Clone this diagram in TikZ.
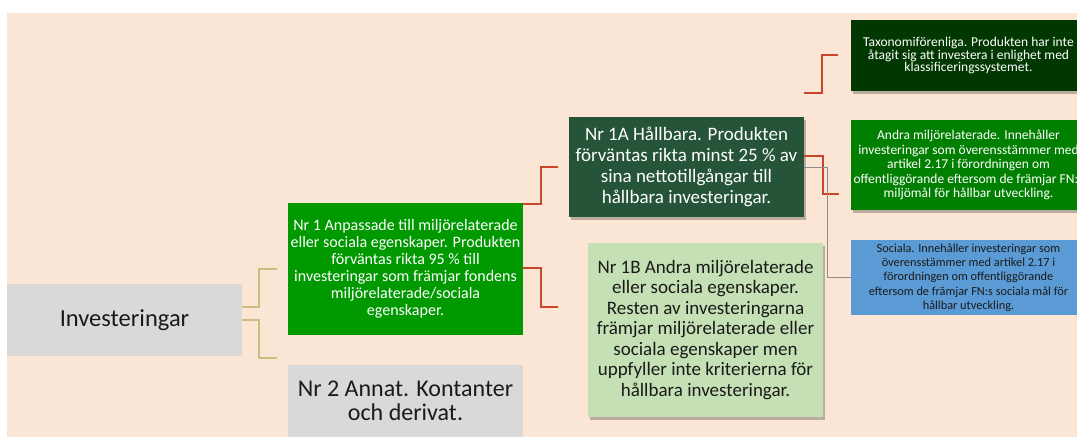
\documentclass[tikz,border=0pt]{standalone}
\usepackage{fontspec}
\setmainfont{Carlito}
\usetikzlibrary{shadows}
\definecolor{bg}{HTML}{FBE6D6}
\definecolor{boxgray}{HTML}{D9D9D9}
\definecolor{nrgreen}{HTML}{009900}
\definecolor{darkgreen}{HTML}{265438}
\definecolor{lightgreen}{HTML}{C5E0B4}
\definecolor{taxgreen}{HTML}{013801}
\definecolor{midgreen}{HTML}{007F00}
\definecolor{socblue}{HTML}{5B9BD5}
\definecolor{redline}{HTML}{C8472B}
\definecolor{tanline}{HTML}{CBBF7F}
\definecolor{grayline}{HTML}{8C8C8C}
\definecolor{darktext}{HTML}{1A1A1A}
\begin{document}
\begin{tikzpicture}[x=1pt,y=-1pt,
  box/.style={rectangle, inner sep=0pt, minimum width=235pt, align=center},
  shadowed/.style={drop shadow={shadow xshift=2pt, shadow yshift=-3pt, opacity=0.25, fill=black}},
  tanconn/.style={draw=tanline, line width=1.6pt},
  redconn/.style={draw=redline, line width=1.8pt},
  grayconn/.style={draw=grayline, line width=1pt}]
\useasboundingbox (0,0) rectangle (1077,437);
\clip (0,0) rectangle (1077,437);
\fill[white] (0,0) rectangle (1077,437);
\fill[bg] (7,13) rectangle (1077,437);

% nodes
\node[box, fill=boxgray, minimum height=72pt, text=darktext,
  font=\fontsize{24.5}{26}\selectfont] (inv) at (124.5,320) {Investeringar};
\node[box, fill=nrgreen, minimum height=132pt, text=white,
  font=\fontsize{16}{17}\selectfont] (nr1) at (405.5,269)
  {Nr 1 Anpassade till miljörelaterade\\eller sociala egenskaper. Produkten\\förväntas rikta 95 \% till\\investeringar som främjar fondens\\miljörelaterade/sociala\\egenskaper.};
\node[box, fill=boxgray, minimum height=72pt, text=darktext,
  font=\fontsize{24}{24}\selectfont] (nr2) at (405.5,401)
  {Nr 2 Annat. Kontanter\\och derivat.};
\node[box, shadowed, fill=darkgreen, minimum height=100pt, text=white,
  font=\fontsize{19}{21}\selectfont] (n1a) at (686.5,167)
  {Nr 1A Hållbara. Produkten\\förväntas rikta minst 25 \% av\\sina nettotillgångar till\\hållbara investeringar.};
\node[box, shadowed, fill=lightgreen, minimum height=174pt, text=darktext,
  font=\fontsize{19}{20.5}\selectfont] (n1b) at (705.5,330)
  {Nr 1B Andra miljörelaterade\\eller sociala egenskaper.\\Resten av investeringarna\\främjar miljörelaterade eller\\sociala egenskaper men\\uppfyller inte kriterierna för\\hållbara investeringar.};
\node[box, shadowed, fill=taxgreen, minimum height=71pt, text=white,
  font=\fontsize{13.5}{12.5}\selectfont] (tax) at (968.5,55.5)
  {Taxonomiförenliga. Produkten har inte\\åtagit sig att investera i enlighet med\\klassificeringssystemet.};
\node[box, shadowed, fill=midgreen, minimum height=90pt, text=white,
  font=\fontsize{13.5}{14.5}\selectfont] (andra) at (968.5,165)
  {Andra miljörelaterade. Innehåller\\investeringar som överensstämmer med\\artikel 2.17 i förordningen om\\offentliggörande eftersom de främjar FN:s\\miljömål för hållbar utveckling.};
\node[box, fill=socblue, minimum height=75pt, text=darktext,
  font=\fontsize{12.3}{14.3}\selectfont] (soc) at (968.5,277.5)
  {Sociala. Innehåller investeringar som\\överensstämmer med artikel 2.17 i\\förordningen om offentliggörande\\eftersom de främjar FN:s sociala mål för\\hållbar utveckling.};

% free ends of connectors
\coordinate (t1) at (277,269);
\coordinate (t2) at (277,358);
\coordinate (r1) at (558,167);
\coordinate (r2) at (558,307);
\coordinate (r3) at (838,55);
\coordinate (r4) at (839,194);

% connectors
\draw[tanconn] ([yshift=13pt]inv.east) -- ++(17,0) |- (t1);
\draw[tanconn] (inv.east) -- ++(17,0) |- (t2);
\draw[redconn] ([yshift=65pt]nr1.east) -- ++(18,0) |- (r1);
\draw[redconn] ([yshift=1pt]nr1.east) -- ++(18,0) |- (r2);
\draw[redconn] ([yshift=24pt]n1a.north east) -- ++(18,0) |- (r3);
\draw[redconn] ([yshift=11pt]n1a.east) -- ++(19,0) |- (r4);
\draw[grayconn] (n1a.east) -- ++(23,0) |- (soc.west);
\end{tikzpicture}
\end{document}
